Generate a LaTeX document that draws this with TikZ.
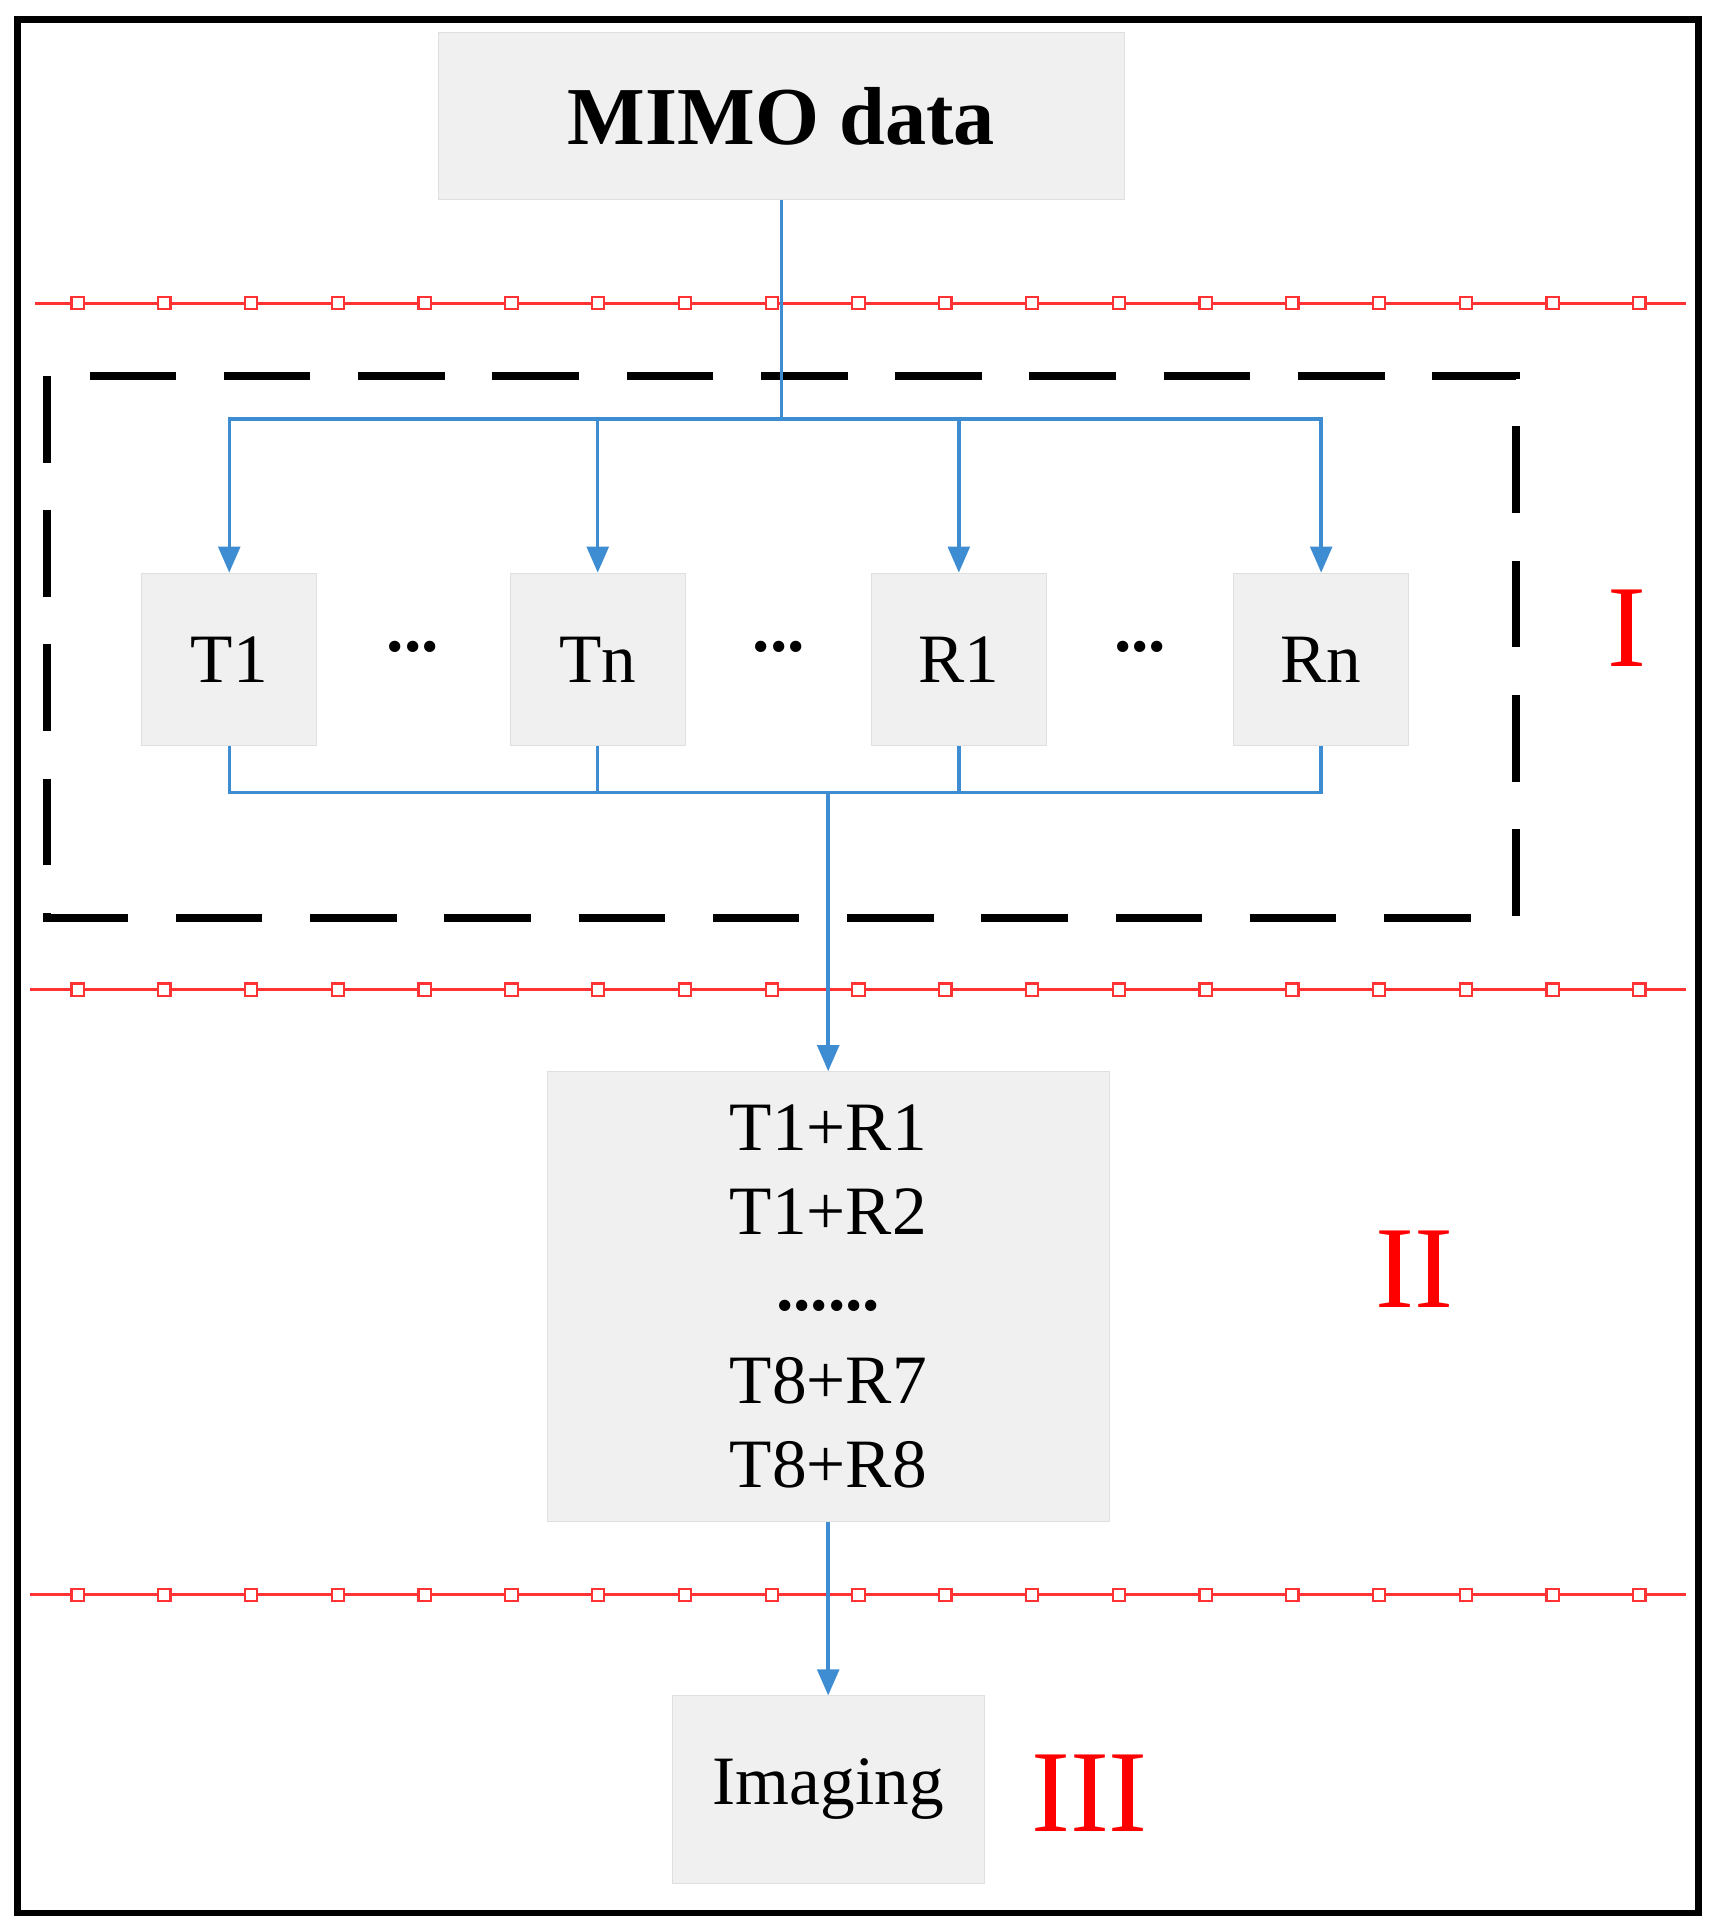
\documentclass[tikz,border=0pt]{standalone}
\usepackage{fontspec}
\setmainfont{Liberation Serif}
\usetikzlibrary{positioning, calc, arrows.meta}

\tikzset{
  block/.style={draw=gray!25, fill=gray!12, inner sep=0pt},
  flow/.style={draw=cyan!60!blue!80, line width=1.6pt},
  sep/.style={draw=red!80, line width=1.4pt},
  sepmark/.style={draw=red!80, line width=1pt},
  stage/.style={text=red, font=\fontsize{54}{54}\selectfont},
}

\begin{document}
\begin{tikzpicture}[x=0.02cm, y=-0.02cm, >={Triangle[length=12pt,width=10pt]}]
  \useasboundingbox (0,0) rectangle (1390,1566);
  \draw[line width=3pt] (14,16) rectangle (1378,1552);

  % separators
  \foreach \yy/\xs in {246/28, 803/24, 1294/24} {
    \draw[sep] (\xs,\yy) -- (1368,\yy);
    \foreach \k in {0,...,18}
      \draw[sepmark, fill=white] ({63+70.4*\k-5},\yy-5) rectangle ++(10,10);
  }

  \draw[dashed, line width=3.5pt, dash pattern=on 40pt off 22pt] (38,305) rectangle (1230,745);

  % blocks
  \node[block, minimum width=556*0.02cm, minimum height=136*0.02cm, font=\bfseries\fontsize{38}{38}\selectfont] (mimo) at (634,94) {MIMO data};
  \foreach \nm/\xx/\txt in {t1/186/T1, tn/485/Tn, r1/778/R1, rn/1072/Rn}
    \node[block, minimum width=142*0.02cm, minimum height=140*0.02cm, font=\fontsize{32}{32}\selectfont] (\nm) at (\xx,535) {\txt};
  \foreach \xx in {335,632,925}
    \node[font=\bfseries\fontsize{32}{32}\selectfont] (dots\xx) at (\xx,525) {...};
  \node[block, minimum width=456*0.02cm, minimum height=365*0.02cm, align=center, font=\fontsize{32}{39}\selectfont] (pairs) at (672,1052)
    {T1+R1\\T1+R2\\[-4pt]\textbf{......}\\[4pt]T8+R7\\T8+R8};
  \node[block, minimum width=253*0.02cm, minimum height=152*0.02cm, font=\fontsize{32}{32}\selectfont] (img) at (672,1452) {Imaging};

  % connectors
  \coordinate (split) at (634,340);
  \coordinate (join) at (672,643);
  \draw[flow] (mimo.south) -- (split);
  \foreach \nm in {t1,tn,r1,rn} {
    \draw[flow, ->] (split) -| (\nm.north);
    \draw[flow] (\nm.south) |- (join);
  }
  \draw[flow, ->] (join) -- (pairs.north);
  \draw[flow, ->] (pairs.south) -- (img.north);

  % stages
  \node[stage] (s1) at (1320,510) {I};
  \node[stage] (s2) at (1148,1030) {II};
  \node[stage] (s3) at (884,1455) {III};
\end{tikzpicture}
\end{document}
